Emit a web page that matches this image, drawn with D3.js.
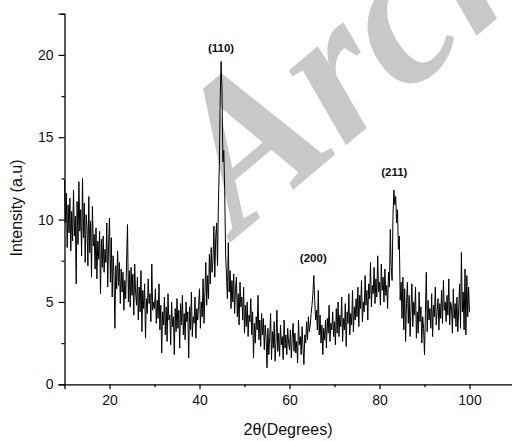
<!DOCTYPE html>
<html>
<head>
<meta charset="utf-8">
<script src="https://cdn.jsdelivr.net/npm/d3@7"></script>
<style>
html,body{margin:0;padding:0;background:#fff;}
svg{display:block;}
</style>
</head>
<body>
<svg id="chart" width="512" height="441"></svg>
<script>
// ---- data ----
const twoThetaStart = 10.0;   // degrees
const twoThetaStep = 0.2;     // degrees
const intensity = [
  // 10.0 - 14.8
  12.4, 9.8, 11.6, 8.3, 10.9, 9.2, 11.3, 8.1, 10.5, 8.7, 11.8, 9.0, 10.2, 6.1, 11.1, 8.5, 12.3, 9.3, 10.6, 7.8, 12.5, 8.9, 11.0, 7.4, 10.3,
  // 15.0 - 19.8
  9.6, 7.2, 11.4, 8.0, 9.9, 6.5, 10.8, 8.4, 9.1, 7.0, 9.5, 6.4, 8.7, 7.6, 9.3, 5.5, 8.8, 7.1, 9.0, 6.8, 8.2, 7.4, 9.8, 5.9, 8.5,
  // 20.0 - 24.8
  10.1, 6.2, 8.9, 5.3, 7.8, 6.6, 3.4, 7.2, 5.8, 8.1, 6.0, 7.4, 4.9, 7.0, 5.6, 6.8, 4.5, 6.3, 5.2, 7.5, 9.7, 5.0, 6.9, 4.7, 7.1,
  // 25.0 - 29.8
  5.4, 6.7, 4.2, 7.3, 5.6, 4.8, 6.5, 3.9, 5.9, 4.4, 6.9, 3.2, 5.7, 4.6, 6.1, 2.8, 5.2, 4.3, 6.4, 4.9, 5.5, 3.8, 7.3, 4.5, 5.0,
  // 30.0 - 34.8
  4.6, 5.8, 3.7, 5.1, 4.0, 6.1, 3.3, 4.8, 1.9, 4.4, 3.6, 5.3, 3.0, 4.7, 2.6, 5.5, 3.9, 4.2, 2.4, 5.0, 3.5, 4.1, 1.8, 4.6, 3.2,
  // 35.0 - 39.8
  5.2, 3.4, 4.5, 2.2, 4.9, 3.6, 5.4, 3.0, 4.3, 2.7, 5.0, 3.8, 4.4, 1.6, 4.7, 3.3, 5.6, 2.9, 4.1, 3.7, 5.3, 2.8, 4.6, 3.9, 4.8,
  // 40.0 - 44.8
  5.8, 3.4, 5.0, 4.1, 6.4, 3.7, 5.5, 7.4, 4.8, 6.6, 5.2, 7.9, 6.1, 8.3, 6.8, 7.6, 9.6, 6.5, 8.9, 9.8, 7.2, 11.0, 13.2, 17.3, 19.6,
  // 45.0 - 49.8
  17.8, 13.5, 14.2, 11.8, 7.9, 6.6, 5.2, 8.6, 5.6, 6.9, 4.6, 6.3, 5.0, 6.7, 4.3, 5.8, 6.5, 4.1, 5.5, 3.6, 6.2, 4.7, 5.3, 3.9, 5.9,
  // 50.0 - 54.8
  3.1, 4.8, 3.5, 5.0, 2.9, 4.2, 3.8, 5.2, 3.0, 4.4, 1.6, 3.7, 2.5, 4.1, 3.3, 5.4, 2.7, 3.9, 2.3, 4.3, 3.0, 4.0, 2.1, 3.6, 2.8,
  // 55.0 - 59.8
  1.0, 3.4, 1.8, 2.9, 4.3, 1.5, 3.2, 2.2, 3.8, 1.4, 2.6, 4.5, 2.0, 3.1, 1.7, 3.6, 2.4, 2.9, 1.5, 3.9, 2.2, 3.0, 1.8, 3.4, 2.5,
  // 60.0 - 64.8
  2.1, 3.3, 1.6, 2.8, 3.7, 2.0, 3.1, 1.9, 2.6, 1.3, 3.9, 2.4, 2.9, 1.8, 3.5, 2.2, 1.2, 3.0, 2.5, 3.8, 2.7, 4.1, 3.2, 3.6, 4.3,
  // 65.0 - 69.8
  4.8, 5.5, 6.6, 5.1, 3.9, 4.5, 3.3, 5.7, 3.0, 4.2, 2.5, 3.6, 1.8, 3.4, 2.7, 3.9, 2.2, 4.0, 3.1, 4.8, 2.6, 3.7, 3.3, 4.4, 2.9,
  // 70.0 - 74.8
  3.8, 2.4, 4.6, 3.1, 5.0, 2.9, 4.2, 3.5, 5.3, 2.6, 4.0, 3.3, 4.9, 2.3, 4.4, 3.7, 5.5, 3.0, 4.3, 3.6, 5.7, 3.2, 4.7, 3.9, 5.2,
  // 75.0 - 79.8
  4.1, 5.9, 3.5, 5.4, 4.6, 6.3, 3.8, 5.0, 4.4, 6.6, 4.8, 5.7, 3.9, 6.1, 5.2, 7.4, 4.7, 6.0, 5.5, 7.1, 4.9, 6.4, 5.3, 7.8, 5.6,
  // 80.0 - 84.8
  6.2, 4.8, 7.3, 5.7, 6.5, 5.0, 7.0, 5.4, 6.0, 4.6, 6.8, 5.9, 9.4, 7.1, 6.3, 10.3, 11.8, 10.9, 11.4, 9.8, 10.6, 8.2, 9.0, 5.1, 6.2,
  // 85.0 - 89.8
  4.0, 6.5, 3.3, 5.8, 2.6, 4.9, 6.2, 3.7, 5.4, 2.9, 4.6, 6.1, 3.5, 5.0, 4.2, 5.9, 2.8, 4.4, 3.1, 5.6, 3.8, 4.7, 2.5, 4.1, 3.4,
  // 90.0 - 94.8
  1.8, 4.3, 6.8, 3.2, 5.1, 3.9, 4.6, 3.4, 5.5, 2.9, 4.8, 4.1, 5.9, 3.6, 4.4, 5.2, 3.3, 4.9, 4.0, 5.7, 3.7, 6.3, 4.5, 5.0, 3.8,
  // 95.0 - 99.8
  5.4, 4.2, 6.4, 3.6, 5.0, 4.7, 3.1, 5.8, 4.0, 4.9, 3.5, 5.3, 3.2, 4.6, 6.1, 3.4, 8.0, 4.4, 5.6, 3.3, 7.0, 3.0, 6.6, 4.1, 5.9,
  // 100.0
  4.4
];
const xMajorTicks = [20, 40, 60, 80, 100];
const xMinorTicks = [30, 50, 70, 90, 110];
const yMajorTicks = [0, 5, 10, 15, 20];
const yMinorTicks = [2.5, 7.5, 12.5, 17.5, 22.5];
const peakLabels = ["(110)", "(200)", "(211)"];
const peakPos = [44.9, 65.4, 83.4];
const peakLabelY = [20.2, 7.45, 12.65];
const xTitle = "2\u03B8(Degrees)";
const yTitle = "Intensity (a.u)";
const watermark = "Archive of SID";

// ---- drawing ----
const svg = d3.select("#chart");
const x = d3.scaleLinear().domain([10, 110]).range([64.5, 514.5]);
const y = d3.scaleLinear().domain([0, 22.5]).range([384.3, 13.7]);
const font = "Arial, 'Liberation Sans', sans-serif";

// watermark (behind)
svg.append("text")
  .attr("transform", "translate(238,236) rotate(-40)")
  .attr("font-family", "'Liberation Serif', 'Times New Roman', serif")
  .attr("font-weight", "bold")
  .attr("font-style", "italic")
  .attr("font-size", 205)
  .attr("fill", "#c8c8c8")
  .text(watermark);

const pts = intensity.map((v, i) => [twoThetaStart + i * twoThetaStep, v]);
const line = d3.line().x(d => x(d[0])).y(d => y(d[1]));
svg.append("path")
  .datum(pts)
  .attr("d", line)
  .attr("fill", "none")
  .attr("stroke", "#000")
  .attr("stroke-width", 1)
  .attr("stroke-linejoin", "miter");

// x axis
const gx = svg.append("g").attr("transform", `translate(0,${y(0)})`);
gx.call(d3.axisBottom(x).tickValues(xMajorTicks).tickSize(5).tickPadding(6).tickFormat(d3.format("d")));
gx.append("g").call(d3.axisBottom(x).tickValues(xMinorTicks).tickSize(3).tickFormat(""))
  .select(".domain").remove();
gx.selectAll(".domain").attr("stroke", "#000").attr("stroke-width", 1.3);
gx.selectAll(".tick line").attr("stroke", "#000").attr("stroke-width", 1.2);
gx.selectAll(".tick text").attr("font-family", font).attr("font-size", 14).attr("fill", "#111");

// y axis
const gy = svg.append("g").attr("transform", `translate(${x(10)},0)`);
gy.call(d3.axisLeft(y).tickValues(yMajorTicks).tickSize(6).tickPadding(5).tickFormat(d3.format("d")));
gy.append("g").call(d3.axisLeft(y).tickValues(yMinorTicks).tickSize(3).tickFormat(""))
  .select(".domain").remove();
gy.selectAll(".domain").attr("stroke", "#000").attr("stroke-width", 1.3);
gy.selectAll(".tick line").attr("stroke", "#000").attr("stroke-width", 1.2);
gy.selectAll(".tick text").attr("font-family", font).attr("font-size", 14).attr("fill", "#111");

// peak labels
svg.selectAll("text.peak")
  .data(peakLabels)
  .join("text")
  .attr("class", "peak")
  .attr("x", (d, i) => x(peakPos[i]) - 0.5)
  .attr("y", (d, i) => y(peakLabelY[i]))
  .attr("text-anchor", "middle")
  .attr("font-family", font)
  .attr("font-weight", "bold")
  .attr("font-size", 11.5)
  .attr("fill", "#111")
  .text(d => d);

// titles
svg.append("text")
  .attr("x", 288).attr("y", 435)
  .attr("text-anchor", "middle")
  .attr("font-family", font).attr("font-size", 16).attr("fill", "#111")
  .text(xTitle);
svg.append("text")
  .attr("transform", "translate(21.5,208) rotate(-90)")
  .attr("text-anchor", "middle")
  .attr("font-family", font).attr("font-size", 16).attr("fill", "#111")
  .text(yTitle);
</script>
</body>
</html>
